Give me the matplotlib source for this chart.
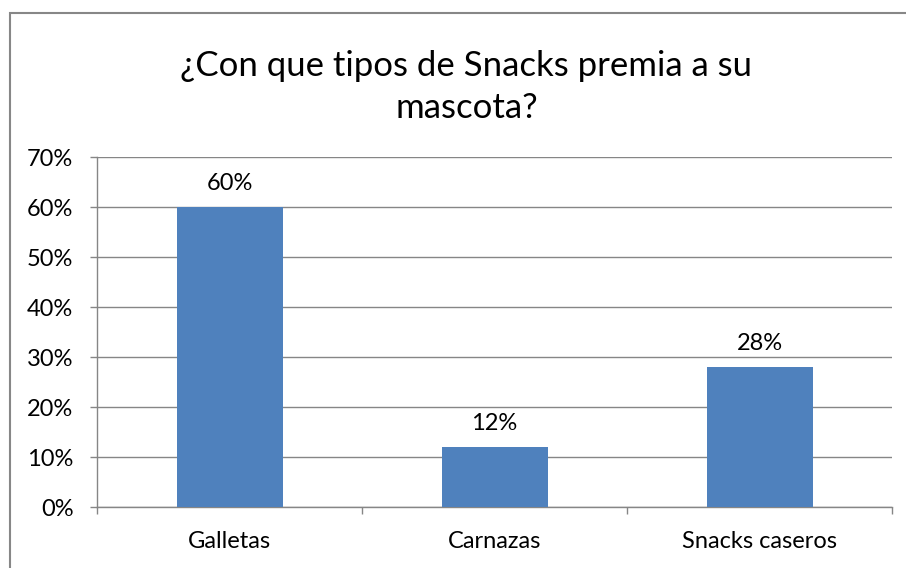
import matplotlib
matplotlib.use('Agg')
import matplotlib.pyplot as plt
from matplotlib.patches import Rectangle
from matplotlib.ticker import FixedLocator, PercentFormatter

categories = ['Galletas', 'Carnazas', 'Snacks caseros']
values = [60, 12, 28]
y_ticks = [0, 10, 20, 30, 40, 50, 60, 70]
title = '¿Con que tipos de Snacks premia a su\nmascota?'

BAR = '#4F81BD'
GRID = '#868686'
plt.rcParams['font.family'] = ['Lato', 'DejaVu Sans']

W, H = 906, 568
fig = plt.figure(figsize=(W / 100, H / 100), dpi=100)
ax = fig.add_axes([97 / W, 1 - 507 / H, (892 - 97) / W, (507 - 157) / H])

x = range(len(categories))
ax.bar(x, values, width=0.4, color=BAR, zorder=3)
for xi, v in zip(x, values):
    ax.annotate(f'{v}%', (xi, v), xytext=(0, 13), textcoords='offset pixels',
                ha='center', va='bottom', fontsize=17, color='black')

ax.set_xlim(-0.5, len(categories) - 0.5)
ax.set_ylim(0, 70)
ax.set_yticks(y_ticks)
ax.yaxis.set_major_formatter(PercentFormatter(decimals=0))
ax.set_xticks(list(x))
ax.set_xticklabels(categories)
ax.xaxis.set_minor_locator(FixedLocator([-0.5, 0.5, 1.5, 2.5]))
ax.tick_params(axis='x', which='major', length=0, pad=17, labelsize=17)
ax.tick_params(axis='x', which='minor', length=5, width=1, color=GRID)
ax.tick_params(axis='y', length=5, width=1, color=GRID, pad=12, labelsize=17)
ax.grid(axis='y', color=GRID, lw=1, zorder=0)

for side in ('top', 'right'):
    ax.spines[side].set_visible(False)
for side in ('left', 'bottom'):
    ax.spines[side].set_color(GRID)
    ax.spines[side].set_linewidth(1)

fig.text(466.5 / W, 1 - 87 / H, title, ha='center', va='center',
         fontsize=25, linespacing=1.35)

fig.patches.append(Rectangle((9.5 / W, -0.1), 1.2, 1.1 - 13.5 / H,
                             transform=fig.transFigure, fill=False,
                             edgecolor='#878787', lw=1.5))

fig.savefig('out.png', dpi=100)
